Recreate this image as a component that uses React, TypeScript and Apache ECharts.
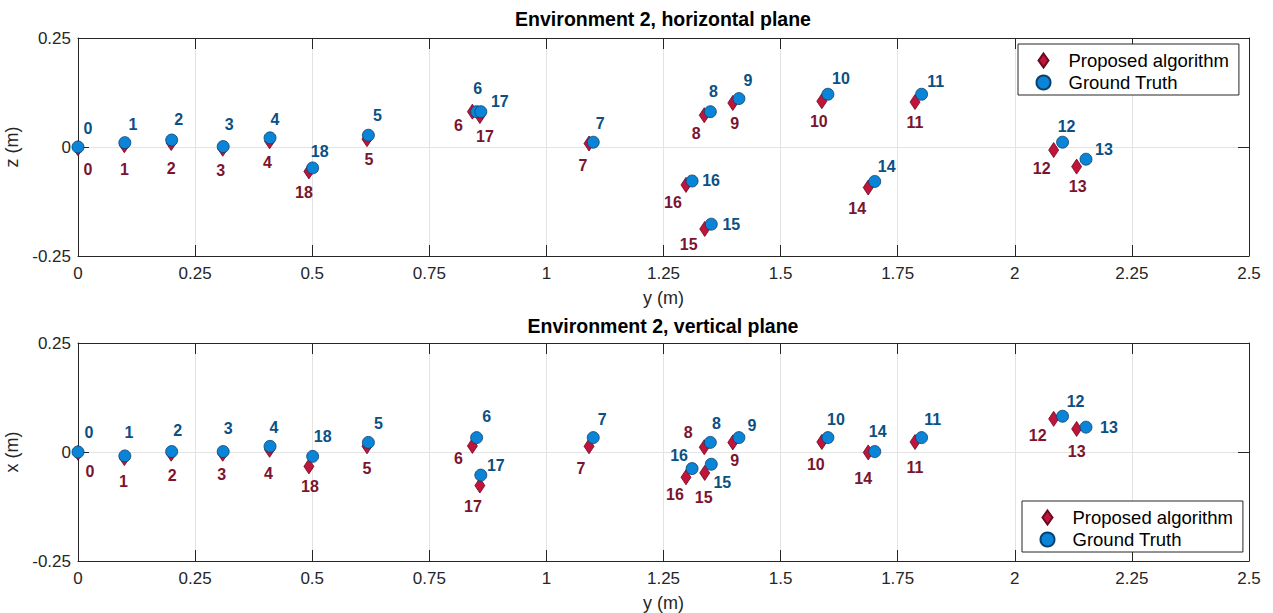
import React, { useEffect, useRef } from "react";
import * as echarts from "echarts";

// ---- data ----
const pointIds = [0, 1, 2, 3, 4, 5, 6, 7, 8, 9, 10, 11, 12, 13, 14, 15, 16, 17, 18];
// y coordinate (horizontal axis in both plots)
const gtY = [0, 0.1, 0.2, 0.31, 0.41, 0.62, 0.851, 1.1, 1.35, 1.411, 1.601, 1.801, 2.102, 2.152, 1.701, 1.352, 1.311, 0.86, 0.501];
const propY = [0, 0.099, 0.199, 0.309, 0.409, 0.617, 0.842, 1.091, 1.337, 1.398, 1.588, 1.787, 2.083, 2.132, 1.687, 1.338, 1.298, 0.858, 0.493];
// z coordinate (horizontal plane)
const gtZ = [0, 0.01, 0.016, 0.001, 0.021, 0.027, 0.081, 0.011, 0.081, 0.111, 0.121, 0.121, 0.011, -0.028, -0.079, -0.177, -0.078, 0.081, -0.048];
const propZ = [-0.003, 0.004, 0.009, -0.004, 0.013, 0.018, 0.081, 0.008, 0.073, 0.101, 0.105, 0.103, -0.007, -0.045, -0.093, -0.188, -0.087, 0.071, -0.056];
// x coordinate (vertical plane)
const gtX = [0, -0.009, 0.001, 0.001, 0.013, 0.022, 0.033, 0.033, 0.022, 0.033, 0.033, 0.033, 0.082, 0.057, 0.001, -0.028, -0.038, -0.053, -0.01];
const propX = [-0.002, -0.014, -0.004, -0.004, 0.005, 0.013, 0.014, 0.013, 0.011, 0.022, 0.023, 0.023, 0.076, 0.053, -0.001, -0.048, -0.058, -0.077, -0.033];

const titles = ["Environment 2, horizontal plane", "Environment 2, vertical plane"];
const seriesNames = ["Proposed algorithm", "Ground Truth"];
const xTickInterval = 0.25;

// ---- label placement (style) ----
const topGtOffsets = [[10, -19], [8, -18], [7, -21], [6, -22], [5, -18], [9, -20], [1, -23], [7, -19], [3, -20], [9, -18], [13, -16], [14, -13], [4, -16], [18, -10], [12, -15], [20, 0], [19, -1], [19, -10], [7, -16]];
const topPropOffsets = [[10, 21], [0, 24], [0, 25], [-2, 22], [-2, 21], [2, 20], [-14, 14], [-6, 22], [-8, 18], [2, 21], [-3, 20], [0, 20], [-12, 18], [1, 20], [-11, 21], [-16, 16], [-13, 18], [5, 20], [-5, 21]];
const botGtOffsets = [[11, -20], [4, -23], [6, -21], [5, -23], [4, -19], [10, -19], [10, -21], [9, -18], [6, -19], [13, -12], [8, -18], [11, -18], [13, -15], [23, 0], [3, -20], [11, 18], [-13, -13], [15, -10], [10, -20]];
const botPropOffsets = [[12, 19], [-1, 23], [1, 22], [-1, 21], [-1, 24], [0, 22], [-14, 13], [-8, 22], [-16, -15], [2, 18], [-6, 23], [0, 26], [-16, 17], [0, 23], [-5, 26], [-1, 25], [-11, 17], [-7, 21], [1, 20]];

const FONT = "'Liberation Sans', Arial, Helvetica, sans-serif";
const AX = "#262626";
const RED_FILL = "#c0143c";
const RED_EDGE = "#6a0a1e";
const RED_TEXT = "#7a1430";
const BLUE_FILL = "#0a84d6";
const BLUE_EDGE = "#0b3f6e";
const BLUE_TEXT = "#0b5083";
const DIAMOND_ICON = "path://M5,0L10,7L5,14L0,7Z";

function makeSeries(name: string, xs: number[], ys: number[], offsets: number[][], axisIndex: number, isGt: boolean) {
  return {
    type: "scatter",
    name,
    xAxisIndex: axisIndex,
    yAxisIndex: axisIndex,
    symbol: isGt ? "circle" : "diamond",
    symbolSize: isGt ? 12 : [10, 15],
    z: isGt ? 3 : 2,
    itemStyle: {
      color: isGt ? BLUE_FILL : RED_FILL,
      borderColor: isGt ? BLUE_EDGE : RED_EDGE,
      borderWidth: 0.8,
      opacity: 1,
    },
    emphasis: { disabled: true },
    label: {
      show: true,
      position: "inside",
      formatter: "{b}",
      color: isGt ? BLUE_TEXT : RED_TEXT,
      fontSize: 16,
      fontWeight: "bold",
      fontFamily: FONT,
    },
    data: xs.map((x, i) => ({
      name: String(pointIds[i]),
      value: [x, ys[i]],
      label: { offset: offsets[i] },
    })),
  };
}

function xAxes(grid: number) {
  const base = {
    gridIndex: grid,
    type: "value",
    min: 0,
    max: 2.5,
    interval: xTickInterval,
    axisLine: { show: true, onZero: false, lineStyle: { color: AX, width: 1 } },
    axisTick: { show: true, inside: true, length: 11, lineStyle: { color: AX, width: 1 } },
  };
  return [
    {
      ...base,
      position: "bottom",
      name: "y (m)",
      nameLocation: "middle",
      nameGap: 33,
      nameTextStyle: { color: AX, fontSize: 18, fontFamily: FONT },
      axisLabel: { show: true, color: AX, fontSize: 17, fontFamily: FONT, margin: 9 },
      splitLine: { show: true, lineStyle: { color: "#e3e3e3", width: 1 } },
    },
    { ...base, position: "top", axisLabel: { show: false }, splitLine: { show: false } },
  ];
}

function yAxes(grid: number, name: string) {
  const base = {
    gridIndex: grid,
    type: "value",
    min: -0.25,
    max: 0.25,
    interval: 0.25,
    axisLine: { show: true, onZero: false, lineStyle: { color: AX, width: 1 } },
    axisTick: { show: true, inside: true, length: 11, lineStyle: { color: AX, width: 1 } },
  };
  return [
    {
      ...base,
      position: "left",
      name,
      nameLocation: "middle",
      nameRotate: 90,
      nameGap: 50,
      nameTextStyle: { color: AX, fontSize: 18, fontFamily: FONT },
      axisLabel: { show: true, color: AX, fontSize: 17, fontFamily: FONT, margin: 7 },
      splitLine: { show: true, lineStyle: { color: "#e3e3e3", width: 1 } },
    },
    { ...base, position: "right", axisLabel: { show: false }, splitLine: { show: false } },
  ];
}

function legendAt(left: number, top: number) {
  return {
    orient: "vertical",
    left,
    top,
    padding: [7, 10, 3, 17.5],
    itemGap: 3,
    itemWidth: 40,
    itemHeight: 14,
    backgroundColor: "#ffffff",
    borderColor: AX,
    borderWidth: 1,
    selectedMode: false,
    textStyle: { color: "#000", fontSize: 18.5, fontFamily: FONT, lineHeight: 19 },
    data: [
      { name: seriesNames[0], icon: DIAMOND_ICON },
      { name: seriesNames[1], icon: "circle" },
    ],
  };
}

export default function App() {
  const ref = useRef<HTMLDivElement>(null);
  useEffect(() => {
    const chart = echarts.init(ref.current!, null, { renderer: "svg" });
    const option = {
      animation: false,
      backgroundColor: "#ffffff",
      title: [
        { text: titles[0], left: 658, textAlign: "center", top: 4, textStyle: { fontSize: 19.5, fontWeight: "bold", color: "#000", fontFamily: FONT } },
        { text: titles[1], left: 658, textAlign: "center", top: 311, textStyle: { fontSize: 19.5, fontWeight: "bold", color: "#000", fontFamily: FONT } },
      ],
      legend: [legendAt(1018, 44), legendAt(1022, 501)],
      grid: [
        { left: 78, top: 38, width: 1171, height: 218, containLabel: false, outerBoundsMode: "none" },
        { left: 78, top: 343, width: 1171, height: 218, containLabel: false, outerBoundsMode: "none" },
      ],
      xAxis: [...xAxes(0), ...xAxes(1)],
      yAxis: [...yAxes(0, "z (m)"), ...yAxes(1, "x (m)")],
      series: [
        makeSeries(seriesNames[0], propY, propZ, topPropOffsets, 0, false),
        makeSeries(seriesNames[1], gtY, gtZ, topGtOffsets, 0, true),
        makeSeries(seriesNames[0], propY, propX, botPropOffsets, 2, false),
        makeSeries(seriesNames[1], gtY, gtX, botGtOffsets, 2, true),
      ],
    };
    chart.setOption(option as any);
    return () => chart.dispose();
  }, []);
  return <div ref={ref} style={{ position: "absolute", left: 0, top: 0, width: 1273, height: 613 }} />;
}
